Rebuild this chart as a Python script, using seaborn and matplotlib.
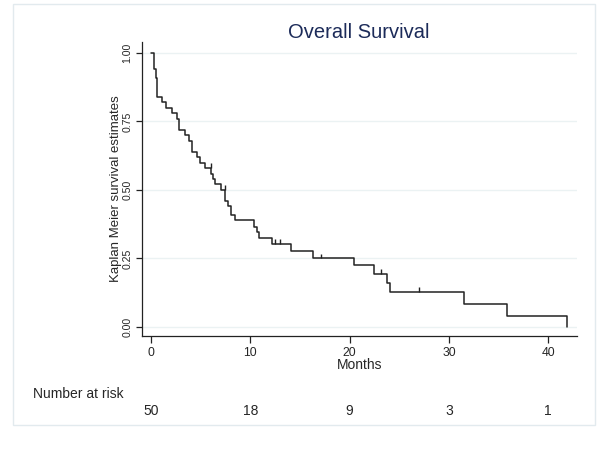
import numpy as np
import seaborn as sns
import matplotlib.pyplot as plt
import matplotlib.transforms as mtransforms
from matplotlib.patches import Rectangle

# Kaplan-Meier steps (months, survival after the drop)
months = [0, 0.3, 0.47, 0.63, 1.08, 1.5, 2.1, 2.6, 2.85, 3.4, 3.85, 4.1, 4.6, 4.9,
          5.4, 6.05, 6.2, 6.45, 7.1, 7.5, 7.8, 8.1, 8.45, 10.4, 10.65, 10.9, 12.15,
          14.1, 16.35, 20.4, 22.5, 23.8, 24.1, 31.55, 35.9, 41.9]
survival = [1.0, 0.94, 0.91, 0.84, 0.82, 0.80, 0.78, 0.76, 0.72, 0.70, 0.68, 0.64, 0.62, 0.60,
            0.58, 0.56, 0.54, 0.52, 0.50, 0.46, 0.44, 0.41, 0.39, 0.366, 0.348, 0.324, 0.302,
            0.277, 0.25, 0.226, 0.192, 0.162, 0.129, 0.085, 0.041, 0.0]
censor_months = [6.0, 7.45, 12.5, 13.0, 17.1, 23.2, 27.0]

risk_times = [0, 10, 20, 30, 40]
at_risk = [50, 18, 9, 3, 1]
y_ticks = [0, 0.25, 0.5, 0.75, 1.0]

sns.set_theme(style="ticks")
plt.rcParams["font.family"] = ["Liberation Sans", "DejaVu Sans"]

fig = plt.figure(figsize=(6, 4.5), dpi=100)
fig.patch.set_facecolor("white")
# light outer frame like stata's graph region
fig.patches.append(Rectangle((13 / 600, 25 / 450), 582 / 600, 421 / 450,
                             transform=fig.transFigure, fill=False,
                             edgecolor="#e2eaee", lw=1))

ax = fig.add_axes([142 / 600, 114 / 450, 435 / 600, 294 / 450])
ax.set_facecolor("white")

sns.lineplot(x=months, y=survival, drawstyle="steps-post", estimator=None,
             color="#222222", lw=1.1, ax=ax)

# censoring marks
idx = np.searchsorted(months, censor_months, side="right") - 1
cens_y = np.array(survival)[idx]
ax.vlines(censor_months, cens_y, cens_y + 0.018, color="#222222", lw=1)

ax.set_xlim(-0.9, 42.9)
ax.set_ylim(-0.033, 1.04)
ax.set_xticks(risk_times)
ax.set_yticks(y_ticks)
ax.set_yticklabels([f"{v:.2f}" for v in y_ticks], rotation=90, va="center", fontsize=7.6)
ax.tick_params(axis="x", labelsize=8.7, length=5, width=0.9, pad=3, color="#222222")
ax.tick_params(axis="y", length=4.5, width=0.9, pad=2.5, color="#222222")
ax.yaxis.grid(True, color="#ebf2f3", lw=1)
ax.xaxis.grid(False)
sns.despine(ax=ax)
for s in ["left", "bottom"]:
    ax.spines[s].set_color("#222222")
    ax.spines[s].set_linewidth(0.9)

ax.set_xlabel("Months", fontsize=10, labelpad=-1)
ax.set_ylabel("Kaplan Meier survival estimates", fontsize=9.5, labelpad=0.5)

fig.text(0.598, 1 - 32 / 450, "Overall Survival", fontsize=14.5, color="#1c2b59",
         ha="center", va="center")

fig.text(33 / 600, 1 - 394 / 450, "Number at risk", fontsize=10, ha="left", va="center")
trans = mtransforms.blended_transform_factory(ax.transData, fig.transFigure)
for t, n in zip(risk_times, at_risk):
    ax.text(t, 1 - 411 / 450, str(n), transform=trans, fontsize=10,
            ha="center", va="center")

fig.savefig("out.png", dpi=100)
